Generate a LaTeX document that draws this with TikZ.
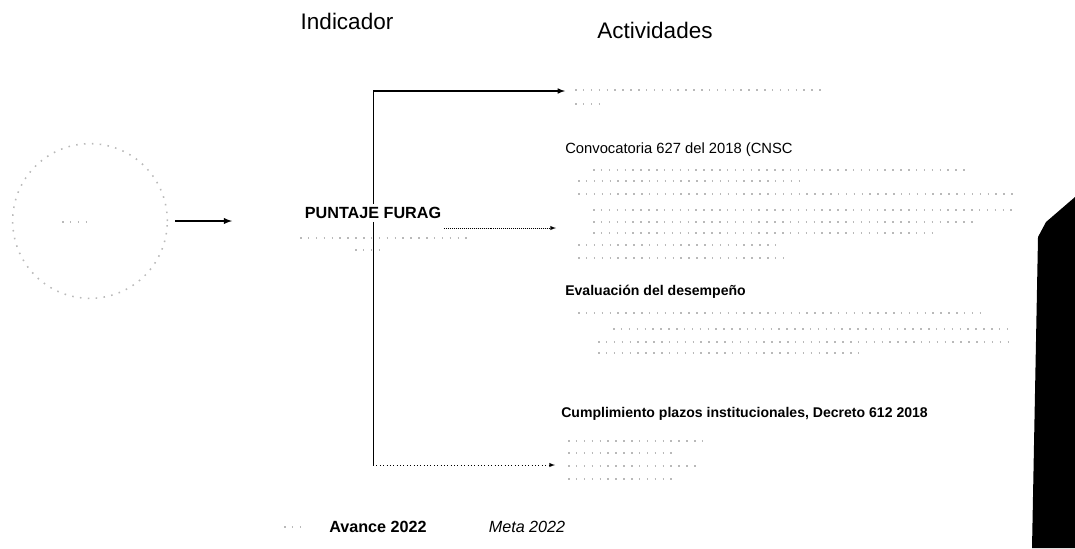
\documentclass[tikz,border=0pt]{standalone}
\usepackage{fontspec}
\setmainfont{Liberation Sans}
\usetikzlibrary{positioning, calc, arrows}

\tikzset{
  titulo/.style={inner sep=0pt, font=\fontsize{16}{18}\selectfont},
  encabezado/.style={anchor=west, inner sep=0pt, font=\fontsize{10.5}{12}\selectfont},
  borroso/.style={gray!55, line width=1.1pt, dash pattern=on 1.1pt off 4.5pt},
  leyenda/.style={inner sep=0pt, font=\fontsize{12}{14}\selectfont},
}

\begin{document}
\begin{tikzpicture}[x=0.025cm, y=-0.025cm, >=latex]
\useasboundingbox (0,0) rectangle (1075,548);

\node[titulo] (indicador) at (347,21) {Indicador};
\node[titulo] (actividades) at (655,30) {Actividades};

% medidor
\node[circle, draw, borroso, minimum size=110pt] (medidor) at (90,221) {};
\draw[borroso] (62,222) -- (92,222);
\coordinate (entrada) at (232,221);
\draw[->, line width=1pt] ([xshift=5pt]medidor.east) -- (entrada);

\node[fill=white, inner sep=2pt, font=\bfseries\fontsize{11.5}{13}\selectfont] (furag) at (373,213) {PUNTAJE FURAG};
\draw[borroso] (300,238) -- (470,238);
\draw[borroso] (355,250) -- (385,250);

\coordinate (arriba) at (373,91);
\coordinate (abajo) at (373,465);
\coordinate (t1) at (565,91);
\coordinate (t2) at (556,228);
\coordinate (t3) at (555,465);
\draw[line width=0.5pt] (arriba) -- (furag.north);
\draw[line width=0.5pt] (furag.south) -- (abajo);
\draw[->, line width=0.8pt] (arriba) -- (t1);
\draw[->, densely dotted] (furag.east |- t2) -- (t2);
\draw[->, dotted] (abajo) -- (t3);

% actividades
\node[encabezado] (convocatoria) at (565,150) {Convocatoria 627 del 2018 (CNSC};
\node[encabezado, font=\bfseries\fontsize{10}{12}\selectfont] (evaluacion) at (565,292) {Evaluación del desempeño};
\node[encabezado, font=\bfseries\fontsize{10}{12}\selectfont] (cumplimiento) at (561,414) {Cumplimiento plazos institucionales, Decreto 612 2018};

\foreach \y/\a/\b in {90/575/825, 104/575/605,
    170/593/967, 181/578/800, 194/578/1015, 210/593/1012, 222/593/978, 233/593/933, 245/578/780, 258/578/785,
    313/578/983, 329/613/1007, 342/598/1015, 353/598/865,
    441/568/705, 453/568/673, 466/568/698, 479/568/673}
  \draw[borroso] (\a,\y) -- (\b,\y);

% leyenda
\draw[borroso] (284,527) -- (306,527);
\node[leyenda, font=\bfseries\fontsize{11.5}{14}\selectfont] (avance) at (378,527) {Avance 2022};
\node[leyenda, font=\itshape\fontsize{11.5}{14}\selectfont] (meta) at (527,527) {Meta 2022};

\fill (1075,197) -- (1046,222) -- (1038,237) -- (1032,548) -- (1075,548) -- cycle;
\end{tikzpicture}
\end{document}
